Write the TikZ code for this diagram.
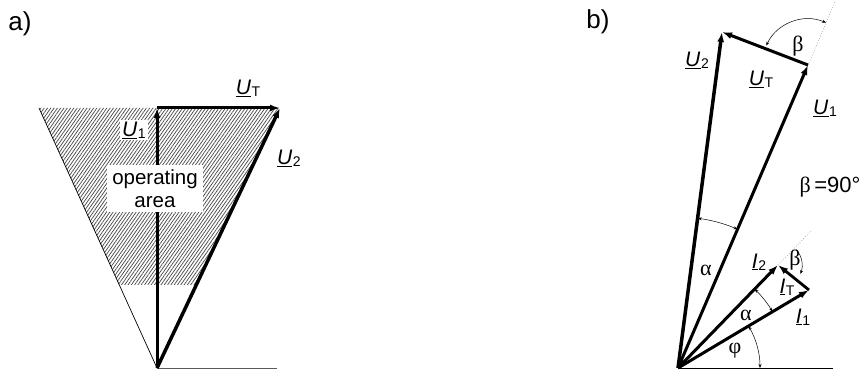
\documentclass[tikz,border=0pt]{standalone}
\usepackage{fontspec}
\setmainfont{Liberation Sans}
\newfontfamily\grk{Liberation Serif}
\usetikzlibrary{arrows.meta,patterns.meta}
\newcommand{\phasor}[2]{\underline{\textit{#1}}\kern0.5pt\raisebox{-0.2ex}{\fontsize{14}{14}\selectfont #2}}
\begin{document}
\begin{tikzpicture}[x=1pt,y=1pt,
  lbl/.style={font=\fontsize{21}{22}\selectfont, inner sep=0pt},
  glbl/.style={font=\fontsize{22}{22}\selectfont\grk, inner sep=0pt},
  vect/.style={line width=3pt,-{Latex[length=10pt,width=7pt]}},
  thinline/.style={line width=0.7pt},
  angarc/.style={line width=0.5pt,{Stealth[length=4pt,width=3pt]}-{Stealth[length=4pt,width=3pt]}},
  dotline/.style={line width=0.6pt,dotted,gray}]
\useasboundingbox (0,0) rectangle (867,383);

% ---------------- panel a ----------------
\node[font=\fontsize{26}{26}\selectfont, inner sep=0pt] (la) at (20,359) {a)};
\coordinate (Oa) at (157,15);
\coordinate (A1) at (157,275);
\coordinate (A2) at (280,275);
\coordinate (AL) at (39,275);
\coordinate (AB) at (277,15);
\fill[pattern={Lines[angle=55,distance=2.7pt,line width=0.75pt]},pattern color=black!70]
  (AL) -- (A2) -- (196,98) -- (119,98) -- cycle;
\draw[thinline] (AL) -- (Oa);
\draw[line width=0.8pt,gray!70!black] (Oa) -- (AB);
\draw[vect] (Oa) -- (A1);
\node[fill=white, minimum width=96pt, minimum height=47pt, inner sep=0pt, align=center,
  font=\fontsize{20.5}{23}\selectfont] (box) at (155,194.5) {operating\\area};
\draw[vect] (A1) -- (A2);
\draw[vect,line width=3.5pt] (Oa) -- (A2);
\node[lbl] (lUT) at (248,295) {\phasor{U}{T}};
\node[lbl, fill=white, inner sep=2pt] (lU1) at (134,253) {\phasor{U}{1}};
\node[lbl] (lU2) at (289,225) {\phasor{U}{2}};

% ---------------- panel b ----------------
\node[font=\fontsize{26}{26}\selectfont, inner sep=0pt] (lb) at (598,361) {b)};
\coordinate (Ob) at (678,15);
\coordinate (B1) at (808,318);
\coordinate (B2) at (722,351);
\coordinate (C1) at (809,93);
\coordinate (C2) at (778,118);
\coordinate (BB) at (833,15);
\coordinate (Bx) at (835,381);
\coordinate (Cx) at (811,152);
\draw[thinline,line width=1pt] (Ob) -- (BB);
\draw[dotline] (B1) -- (Bx);
\draw[dotline] (C2) -- (Cx);
\draw[vect] (Ob) -- (B1);
\draw[vect] (B1) -- (B2);
\draw[vect,line width=3.5pt] (Ob) -- (B2);
\draw[vect] (Ob) -- (C1);
\draw[vect] (Ob) -- (C2);
\draw[vect,line width=2.8pt] (C1) -- (C2);
% angle arcs
\draw[angarc] ([shift={(66.8:46)}]B1) arc[start angle=66.8,end angle=155,radius=46];
\draw[angarc] ([shift={(66.8:151)}]Ob) arc[start angle=66.8,end angle=82.5,radius=151];
\draw[angarc] ([shift={(30.8:110)}]Ob) arc[start angle=30.8,end angle=45.8,radius=110];
\draw[angarc] ([shift={(0:82)}]Ob) arc[start angle=0,end angle=30.8,radius=82];
\draw[line width=0.5pt,-{Stealth[length=4pt,width=3pt]}] ([shift={(40:24)}]C2) arc[start angle=40,end angle=-22,radius=24];
% labels
\node[glbl] (bet1) at (798,337) {β};
\node[lbl] (lbU2) at (697,323) {\phasor{U}{2}};
\node[lbl] (lbUT) at (761,304) {\phasor{U}{T}};
\node[lbl] (lbU1) at (825,275) {\phasor{U}{1}};
\node[font=\fontsize{22}{22}\selectfont, inner sep=0pt] (b90) at (830,196) {{\grk β}\,=90°};
\node[glbl] (al1) at (706,113) {α};
\node[lbl] (lI2) at (759,121) {\phasor{I}{2}};
\node[lbl] (lIT) at (787,96) {\phasor{I}{T}};
\node[lbl] (lI1) at (803,66) {\phasor{I}{1}};
\node[glbl] (bet2) at (795,123) {β};
\node[glbl] (al2) at (746,68) {α};
\node[glbl] (phi) at (735,32) {φ};
\end{tikzpicture}
\end{document}
